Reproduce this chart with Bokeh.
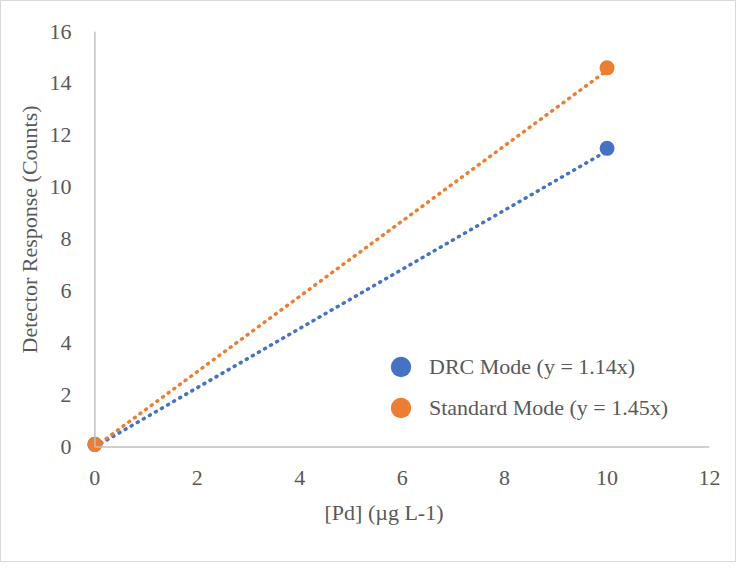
import numpy as np
from bokeh.plotting import figure
from bokeh.models import Range1d, FixedTicker, Legend, LegendItem, Title
from bokeh.embed import file_html
from bokeh.resources import INLINE

# Data
conc = [0, 10]
drc = [0.1, 11.5]
standard = [0.1, 14.6]
slopes = [1.14, 1.45]
labels = ["DRC Mode (y = 1.14x)", "Standard Mode (y = 1.45x)"]
colors = ["#4472C4", "#ED7D31"]
x_ticks = [0, 2, 4, 6, 8, 10, 12]
y_ticks = [0, 2, 4, 6, 8, 10, 12, 14, 16]
x_title = "[Pd] (µg L-1)"
y_title = "Detector Response (Counts)"

FONT = "Liberation Serif"
TXT = "#595959"
AX = "#BFBFBF"
FS = "22px"

p = figure(width=736, height=562, output_backend="svg", toolbar_location=None,
           x_range=Range1d(-0.3, 12), y_range=Range1d(-0.6, 16),
           min_border_left=78, min_border_right=28, min_border_top=30, min_border_bottom=101)
p.styles = {"border": "1px solid #D9D9D9"}
p.outline_line_color = None
p.grid.visible = False

# trendlines
tx = np.array([conc[0], conc[-1]], dtype=float)
for s, c in zip(slopes, colors):
    p.line(tx, s * tx, line_color=c, line_width=3.5, line_dash="1 6", line_cap="round")

r1 = p.scatter(conc, drc, size=15, fill_color=colors[0], line_color=None)
r2 = p.scatter(conc, standard, size=15, fill_color=colors[1], line_color=None)

# axis lines at x=0 and y=0
p.segment(x0=[x_ticks[0], x_ticks[0]], y0=[y_ticks[0], y_ticks[0]],
          x1=[x_ticks[0], x_ticks[-1]], y1=[y_ticks[-1], y_ticks[0]],
          line_color=AX, line_width=1.5)

for ax in (p.xaxis[0], p.yaxis[0]):
    ax.axis_line_color = None
    ax.major_tick_line_color = None
    ax.minor_tick_line_color = None
    ax.major_label_text_font = FONT
    ax.major_label_text_font_size = FS
    ax.major_label_text_color = TXT

p.xaxis.ticker = FixedTicker(ticks=x_ticks)
p.yaxis.ticker = FixedTicker(ticks=y_ticks)
p.xaxis.major_label_standoff = 2
p.yaxis.major_label_standoff = 2

tstyle = dict(text_font=FONT, text_font_size=FS, text_color=TXT, text_font_style="normal")
p.add_layout(Title(text=y_title, align="left", offset=109, standoff=9, **tstyle), "left")
p.add_layout(Title(text=x_title, align="left", offset=245, standoff=21, **tstyle), "below")

common = dict(glyph_width=51, glyph_height=51, label_standoff=3, padding=0, margin=0,
              border_line_color=None, background_fill_alpha=0,
              label_text_font=FONT, label_text_font_size=FS, label_text_color=TXT)
leg1 = Legend(items=[LegendItem(label=labels[0], renderers=[r1])], location=(296, 70), **common)
leg2 = Legend(items=[LegendItem(label=labels[1], renderers=[r2])], location=(296, 29), **common)
p.add_layout(leg1)
p.add_layout(leg2)

open("out.html", "w").write(file_html(p, INLINE))
